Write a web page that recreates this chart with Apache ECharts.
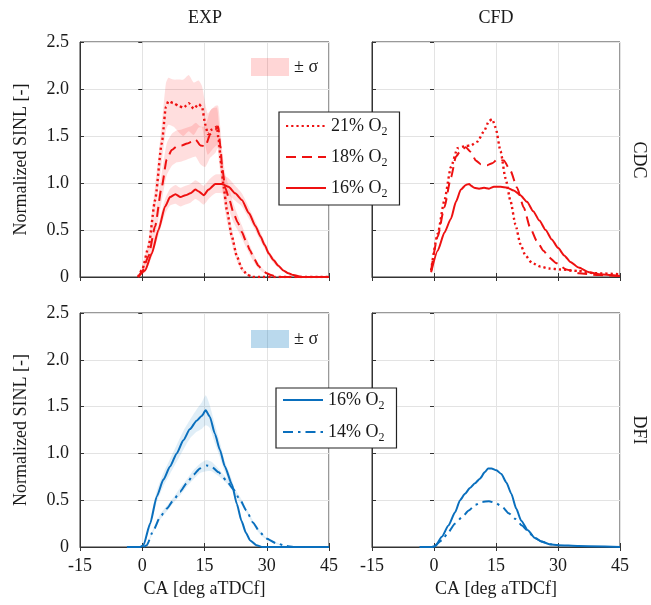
<!DOCTYPE html>
<html><head><meta charset="utf-8">
<script src="https://cdn.jsdelivr.net/npm/echarts@6/dist/echarts.min.js"></script>
<style>html,body{margin:0;padding:0;background:#fff}#c{width:651px;height:605px}</style>
</head><body><div id="c"></div>
<script>
// ---------- tick labels ----------
const xTicks = [-15, 0, 15, 30, 45];
const yTicks = [0, 0.5, 1.0, 1.5, 2.0, 2.5];
const panelTitles = ['EXP', 'CFD'];
const rowTitles = ['CDC', 'DFI'];

// ---------- CDC, EXP (mean and sigma) ----------
const cdcExp21X = [-1, 0, 1.5, 3.1, 4.7, 5.7, 6.3, 7.5, 8.8, 9.9, 11.2, 12.4, 13.6, 14.4, 15.2, 15.8, 16.8, 18.0, 18.4, 19.0, 19.6, 20.4, 21.6, 22.8, 24.0, 25.2, 26.4, 45];
const cdcExp21Y = [0, 0.08, 0.32, 0.82, 1.42, 1.81, 1.87, 1.85, 1.82, 1.80, 1.85, 1.79, 1.84, 1.81, 1.62, 1.52, 1.57, 1.60, 1.46, 1.21, 0.96, 0.71, 0.43, 0.22, 0.09, 0.03, 0, 0];
const cdcExp21S = [0, 0.03, 0.08, 0.15, 0.2, 0.25, 0.25, 0.25, 0.28, 0.3, 0.3, 0.28, 0.25, 0.22, 0.22, 0.22, 0.22, 0.2, 0.2, 0.18, 0.15, 0.12, 0.08, 0.05, 0.03, 0.01, 0, 0];

const cdcExp18X = [-1, 0, 1.5, 3.1, 4.7, 5.9, 7.1, 8.3, 9.5, 10.8, 12.0, 12.9, 14.0, 15.2, 16.4, 17.6, 18.3, 18.8, 19.3, 20.0, 21.0, 22.0, 23.0, 24.0, 25.0, 26.0, 27.0, 28.0, 29.0, 30.0, 31.0, 32.5, 45];
const cdcExp18Y = [0, 0.06, 0.22, 0.54, 0.96, 1.25, 1.35, 1.39, 1.40, 1.42, 1.44, 1.46, 1.40, 1.39, 1.52, 1.57, 1.60, 1.40, 1.15, 0.95, 0.82, 0.68, 0.58, 0.48, 0.38, 0.28, 0.19, 0.12, 0.07, 0.04, 0.02, 0, 0];
const cdcExp18S = [0, 0.02, 0.06, 0.12, 0.15, 0.17, 0.17, 0.17, 0.17, 0.17, 0.17, 0.18, 0.2, 0.22, 0.25, 0.25, 0.22, 0.2, 0.18, 0.15, 0.12, 0.1, 0.08, 0.07, 0.06, 0.05, 0.04, 0.03, 0.02, 0.01, 0.01, 0, 0];

const cdcExp16X = [-1, 0.7, 2.3, 3.9, 5.5, 6.7, 8.0, 9.2, 10.4, 11.6, 12.8, 13.6, 14.8, 16.0, 17.6, 19.2, 20.8, 22.4, 24.0, 25.7, 27.3, 28.5, 29.5, 30.5, 31.6, 32.8, 34.0, 35.2, 36.4, 38.5, 45];
const cdcExp16Y = [0, 0.07, 0.25, 0.50, 0.75, 0.85, 0.88, 0.85, 0.87, 0.89, 0.93, 0.91, 0.87, 0.93, 0.99, 0.99, 0.96, 0.89, 0.82, 0.68, 0.54, 0.43, 0.34, 0.25, 0.18, 0.12, 0.07, 0.04, 0.02, 0, 0];
const cdcExp16S = [0, 0.02, 0.04, 0.06, 0.08, 0.09, 0.1, 0.1, 0.1, 0.1, 0.1, 0.1, 0.1, 0.1, 0.1, 0.1, 0.09, 0.08, 0.07, 0.06, 0.05, 0.05, 0.04, 0.03, 0.03, 0.02, 0.01, 0.01, 0, 0, 0];

// ---------- CDC, CFD ----------
const cdcCfd21X = [-0.7, 0.9, 2.5, 4.1, 5.7, 7.3, 8.9, 10.5, 12.1, 13.3, 14.1, 14.9, 16.1, 17.3, 18.5, 19.7, 20.9, 22.1, 23.7, 25.8, 27.8, 30.7, 34.8, 38.9, 45];
const cdcCfd21Y = [0.07, 0.46, 0.81, 1.17, 1.37, 1.39, 1.40, 1.44, 1.55, 1.66, 1.68, 1.59, 1.34, 1.05, 0.81, 0.56, 0.35, 0.23, 0.15, 0.11, 0.09, 0.08, 0.065, 0.04, 0.03];

const cdcCfd18X = [-0.7, 0.9, 2.5, 4.1, 5.3, 6.5, 7.7, 8.9, 10.1, 11.3, 12.9, 14.1, 15.3, 16.9, 18.5, 20.1, 21.7, 23.3, 24.9, 26.5, 27.8, 29.5, 32, 35, 40, 45];
const cdcCfd18Y = [0.07, 0.43, 0.74, 1.06, 1.28, 1.35, 1.38, 1.33, 1.24, 1.20, 1.19, 1.21, 1.25, 1.24, 1.13, 0.95, 0.74, 0.52, 0.38, 0.28, 0.21, 0.15, 0.08, 0.04, 0.02, 0.01];

const cdcCfd16X = [-0.7, 0.9, 2.5, 4.1, 5.3, 6.5, 7.7, 8.5, 9.0, 9.7, 10.9, 12.1, 13.3, 14.5, 16.1, 17.7, 19.3, 20.9, 22.5, 24.0, 25.5, 27.0, 28.5, 30.0, 31.5, 33.0, 35.0, 37.5, 40.0, 45.0];
const cdcCfd16Y = [0.05, 0.28, 0.47, 0.62, 0.80, 0.93, 0.98, 0.99, 0.97, 0.95, 0.94, 0.95, 0.94, 0.96, 0.96, 0.95, 0.92, 0.87, 0.80, 0.70, 0.60, 0.50, 0.40, 0.31, 0.23, 0.16, 0.10, 0.05, 0.03, 0.01];

// ---------- DFI, EXP ----------
const dfiExp16X = [-3.7, -0.5, 0.3, 1.9, 3.5, 5.1, 6.7, 8.3, 9.9, 11.5, 13.1, 14.3, 15.3, 16.3, 17.5, 18.7, 19.9, 21.6, 22.8, 23.9, 25.0, 26.0, 27.5, 29, 45];
const dfiExp16Y = [0, 0, 0.02, 0.25, 0.54, 0.72, 0.86, 1.0, 1.14, 1.26, 1.35, 1.40, 1.46, 1.39, 1.21, 1.04, 0.86, 0.67, 0.46, 0.28, 0.15, 0.07, 0.02, 0, 0];
const dfiExp16S = [0, 0, 0.01, 0.04, 0.06, 0.07, 0.08, 0.09, 0.1, 0.1, 0.12, 0.14, 0.16, 0.12, 0.1, 0.08, 0.06, 0.05, 0.04, 0.03, 0.02, 0.01, 0.01, 0, 0];

const dfiExp14X = [0.3, 1.1, 2.7, 4.3, 5.9, 7.5, 9.1, 10.7, 12.3, 13.9, 15.5, 16.7, 18.3, 20.3, 21.9, 23.5, 25.1, 26.7, 28.3, 29.9, 32.3, 34.7, 36.4, 45];
const dfiExp14Y = [0, 0.02, 0.18, 0.32, 0.41, 0.50, 0.59, 0.68, 0.77, 0.84, 0.87, 0.86, 0.80, 0.71, 0.62, 0.51, 0.39, 0.26, 0.16, 0.09, 0.04, 0.01, 0, 0];
const dfiExp14S = [0, 0.01, 0.02, 0.03, 0.03, 0.03, 0.04, 0.04, 0.05, 0.05, 0.06, 0.05, 0.04, 0.03, 0.03, 0.03, 0.02, 0.02, 0.02, 0.01, 0.01, 0, 0, 0];

// ---------- DFI, CFD ----------
const dfiCfd16X = [-3.5, -0.5, 0.3, 1.9, 3.5, 5.1, 6.3, 7.5, 8.7, 9.9, 11.1, 12.3, 13.1, 13.9, 15.1, 16.3, 17.5, 18.7, 19.9, 21.1, 22.7, 24.3, 25.9, 27.9, 30, 35, 45];
const dfiCfd16Y = [0, 0, 0.01, 0.11, 0.23, 0.37, 0.50, 0.57, 0.63, 0.68, 0.73, 0.80, 0.84, 0.84, 0.82, 0.78, 0.69, 0.57, 0.41, 0.28, 0.18, 0.10, 0.06, 0.03, 0.02, 0.01, 0];

const dfiCfd14X = [0, 1.9, 3.5, 5.1, 6.8, 8.4, 10.0, 11.6, 13.3, 14.9, 16.5, 18.1, 19.7, 21.3, 22.5, 24.3, 26, 28, 30];
const dfiCfd14Y = [0, 0.07, 0.16, 0.25, 0.32, 0.39, 0.45, 0.48, 0.49, 0.47, 0.43, 0.36, 0.30, 0.23, 0.18, 0.10, 0.06, 0.03, 0.02];

// ---------- styling ----------
const FONT = 'Liberation Serif';
const TXT = '#1a1a1a';
const RED = '#ee1111';
const BLUE = '#0a6fbd';
const RED_BAND = 'rgba(255,0,0,0.13)';
const BLUE_BAND = 'rgba(0,114,189,0.12)';
const DOT = [2.2, 3];
const DASH = [10, 6];
const DASHDOT = [10, 5, 2.5, 5];

const gridsPos = [
  { left: 80, top: 42, width: 249, height: 235 },
  { left: 372, top: 42, width: 248, height: 235 },
  { left: 80, top: 313, width: 249, height: 234 },
  { left: 372, top: 313, width: 248, height: 234 }
];

const pts = (xs, ys) => xs.map((x, i) => [x, ys[i]]);

function line(name, g, xs, ys, color, type, width) {
  return {
    type: 'line', name, xAxisIndex: g, yAxisIndex: g, data: pts(xs, ys),
    symbol: 'none', showSymbol: false, smooth: 0.2, smoothMonotone: 'x',
    lineStyle: { color, width, type, cap: 'butt' }, itemStyle: { color },
    z: 3, animation: false, clip: true
  };
}
function band(name, g, xs, ys, sig, fill) {
  return {
    type: 'custom', name, xAxisIndex: g, yAxisIndex: g,
    data: xs.map((x, i) => [x, ys[i] - sig[i], ys[i] + sig[i]]),
    encode: { x: 0, y: [1, 2] }, clip: true, silent: true, z: 1, animation: false,
    itemStyle: { color: fill },
    renderItem: (params, api) => {
      if (params.dataIndexInside !== 0) return null;
      const n = params.dataInsideLength;
      const lo = [], hi = [];
      for (let i = 0; i < n; i++) {
        lo.push(api.coord([api.value(0, i), api.value(1, i)]));
        hi.push(api.coord([api.value(0, i), api.value(2, i)]));
      }
      return { type: 'polygon', shape: { points: lo.concat(hi.reverse()), smooth: 0.2 }, style: { fill: fill, stroke: null } };
    }
  };
}

const xAxes = [], yAxes = [];
gridsPos.forEach((gp, g) => {
  xAxes.push({
    type: 'value', gridIndex: g, min: xTicks[0], max: xTicks[xTicks.length - 1], interval: 15,
    position: 'bottom',
    axisLine: { show: true, onZero: false, lineStyle: { color: '#333', width: 1 } },
    axisTick: { show: true, inside: true, length: 4, lineStyle: { color: '#333' } },
    axisLabel: { show: g >= 2, fontFamily: FONT, fontSize: 18, color: TXT, margin: 10 },
    splitLine: { show: true, lineStyle: { color: '#e3e3e3', width: 1 } },
    name: g >= 2 ? 'CA [deg aTDCf]' : '', nameLocation: 'middle', nameGap: 33,
    nameTextStyle: { fontFamily: FONT, fontSize: 18, color: TXT }
  });
  yAxes.push({
    type: 'value', gridIndex: g, min: yTicks[0], max: yTicks[yTicks.length - 1], interval: 0.5,
    position: 'left',
    axisLine: { show: true, onZero: false, lineStyle: { color: '#333', width: 1 } },
    axisTick: { show: true, inside: true, length: 4, lineStyle: { color: '#333' } },
    axisLabel: { show: g % 2 === 0, fontFamily: FONT, fontSize: 18, color: TXT, margin: 11,
      formatter: v => (v === 0 ? '0' : v.toFixed(1)) },
    splitLine: { show: true, lineStyle: { color: '#e3e3e3', width: 1 } },
    name: g % 2 === 0 ? 'Normalized SINL [-]' : '', nameLocation: 'middle', nameGap: 50, nameRotate: 90,
    nameTextStyle: { fontFamily: FONT, fontSize: 18, color: TXT }
  });
});
gridsPos.forEach((gp, g) => {
  xAxes.push({
    type: 'value', gridIndex: g, min: xTicks[0], max: xTicks[xTicks.length - 1], interval: 15, position: 'top',
    axisLine: { show: false }, axisTick: { show: true, inside: true, length: 4, lineStyle: { color: '#333' } },
    axisLabel: { show: false }, splitLine: { show: false }
  });
  yAxes.push({
    type: 'value', gridIndex: g, min: yTicks[0], max: yTicks[yTicks.length - 1], interval: 0.5, position: 'right',
    axisLine: { show: false }, axisTick: { show: true, inside: true, length: 4, lineStyle: { color: '#333' } },
    axisLabel: { show: false }, splitLine: { show: false }
  });
});

const series = [
  band('σ CDC', 0, cdcExp21X, cdcExp21Y, cdcExp21S, RED_BAND),
  band('σ CDC', 0, cdcExp18X, cdcExp18Y, cdcExp18S, RED_BAND),
  band('σ CDC', 0, cdcExp16X, cdcExp16Y, cdcExp16S, RED_BAND),
  line('CDC 21% O2', 0, cdcExp21X, cdcExp21Y, RED, DOT, 2.4),
  line('CDC 18% O2', 0, cdcExp18X, cdcExp18Y, RED, DASH, 2),
  line('CDC 16% O2', 0, cdcExp16X, cdcExp16Y, RED, 'solid', 2),
  line('CDC 21% O2', 1, cdcCfd21X, cdcCfd21Y, RED, DOT, 2.4),
  line('CDC 18% O2', 1, cdcCfd18X, cdcCfd18Y, RED, DASH, 2),
  line('CDC 16% O2', 1, cdcCfd16X, cdcCfd16Y, RED, 'solid', 2),
  band('σ DFI', 2, dfiExp16X, dfiExp16Y, dfiExp16S, BLUE_BAND),
  band('σ DFI', 2, dfiExp14X, dfiExp14Y, dfiExp14S, BLUE_BAND),
  line('DFI 16% O2', 2, dfiExp16X, dfiExp16Y, BLUE, 'solid', 2),
  line('DFI 14% O2', 2, dfiExp14X, dfiExp14Y, BLUE, DASHDOT, 2),
  line('DFI 16% O2', 3, dfiCfd16X, dfiCfd16Y, BLUE, 'solid', 2),
  line('DFI 14% O2', 3, dfiCfd14X, dfiCfd14Y, BLUE, DASHDOT, 2)
];

const legText = {
  fontFamily: FONT, fontSize: 18, color: TXT,
  rich: {
    t: { fontFamily: FONT, fontSize: 18, color: TXT, lineHeight: 24 },
    s: { fontFamily: FONT, fontSize: 12, color: TXT, lineHeight: 12, verticalAlign: 'bottom' }
  }
};
const o2fmt = name => '{t|' + name.split(' ')[1] + ' O}{s|2}';
const legBase = {
  orient: 'vertical', itemWidth: 40, itemHeight: 14, selectedMode: false,
  backgroundColor: '#fff', borderColor: '#222', borderWidth: 1.2, borderRadius: 0,
  formatter: o2fmt, textStyle: legText, z: 10, itemStyle: { opacity: 0, borderWidth: 0 }
};
const sigBase = {
  orient: 'vertical', itemWidth: 38, itemHeight: 18, selectedMode: false, padding: 0,
  formatter: () => '± σ', textStyle: { fontFamily: FONT, fontSize: 18, color: TXT }, z: 10
};

const option = {
  backgroundColor: '#fff',
  animation: false,
  textStyle: { fontFamily: FONT },
  grid: gridsPos.map(gp => Object.assign({ show: true, borderColor: '#333', borderWidth: 1, backgroundColor: 'transparent', containLabel: false }, gp)),
  xAxis: xAxes,
  yAxis: yAxes,
  legend: [
    Object.assign({}, legBase, { data: ['CDC 21% O2', 'CDC 18% O2', 'CDC 16% O2'], left: 279, top: 112, padding: [5, 12, 5, 6], itemGap: 10 }),
    Object.assign({}, legBase, { data: ['DFI 16% O2', 'DFI 14% O2'], left: 276, top: 388, padding: [3, 12, 4, 6], itemGap: 11 }),
    Object.assign({}, sigBase, { data: [{ name: 'σ CDC', icon: 'rect', itemStyle: { color: 'rgba(255,0,0,0.16)', borderWidth: 0 } }], left: 251, top: 58 }),
    Object.assign({}, sigBase, { data: [{ name: 'σ DFI', icon: 'rect', itemStyle: { color: 'rgba(0,114,189,0.27)', borderWidth: 0 } }], left: 251, top: 330 })
  ],
  graphic: [
    { type: 'text', x: 205, y: 18, style: { text: panelTitles[0], font: '18px ' + FONT, fill: TXT, align: 'center', verticalAlign: 'middle' } },
    { type: 'text', x: 496, y: 18, style: { text: panelTitles[1], font: '18px ' + FONT, fill: TXT, align: 'center', verticalAlign: 'middle' } },
    { type: 'text', x: 639, y: 160, rotation: -Math.PI / 2, style: { text: rowTitles[0], font: '18px ' + FONT, fill: TXT, align: 'center', verticalAlign: 'middle' } },
    { type: 'text', x: 639, y: 430, rotation: -Math.PI / 2, style: { text: rowTitles[1], font: '18px ' + FONT, fill: TXT, align: 'center', verticalAlign: 'middle' } }
  ],
  series
};

const chart = echarts.init(document.getElementById('c'), null, { renderer: 'canvas' });
chart.setOption(option);
</script>
</body></html>
